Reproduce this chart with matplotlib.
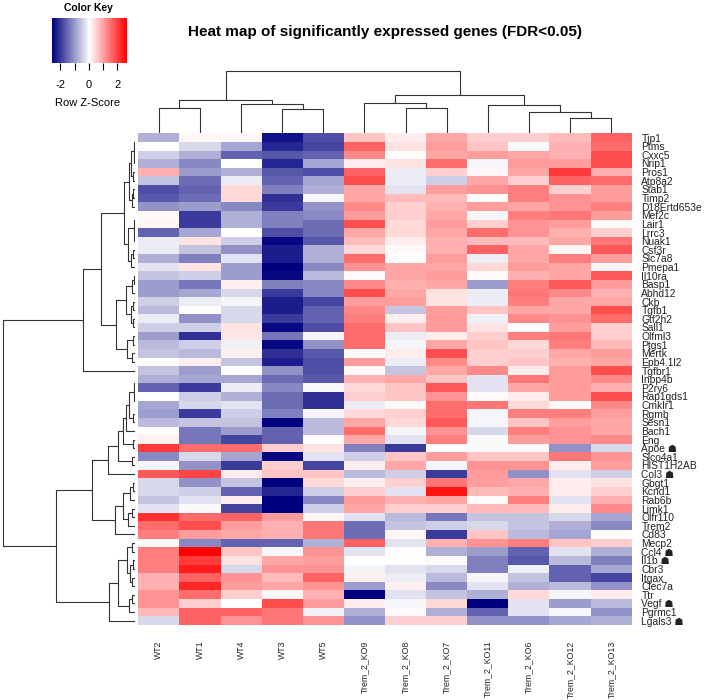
import numpy as np
import matplotlib
matplotlib.use("Agg")
import matplotlib.pyplot as plt
from matplotlib.colors import LinearSegmentedColormap

plt.rcParams["font.family"] = ["Liberation Sans", "DejaVu Sans"]

samples = ["WT2", "WT1", "WT4", "WT3", "WT5",
           "Trem_2_KO9", "Trem_2_KO8", "Trem_2_KO7", "Trem_2_KO11",
           "Trem_2_KO6", "Trem_2_KO12", "Trem_2_KO13"]

genes = ["Tjp1", "Ptms", "Cxxc5", "Nrip1", "Pros1", "Atp8a2", "Stab1", "Timp2",
         "D18Ertd653e", "Mef2c", "Lair1", "Lrrc3", "Nuak1", "Csf3r", "Slc7a8",
         "Pmepa1", "Il10ra", "Basp1", "Abhd12", "Ckb", "Tgfb1", "Gtf2h2", "Sall1",
         "Olfml3", "Ptgs1", "Mertk", "Epb4.1l2", "Tgfbr1", "Inpp4b", "P2ry6",
         "Rap1gds1", "Cmklr1", "Rgmb", "Sesn1", "Bach1", "Eng", "Apoe", "Slco4a1",
         "HIST1H2AB", "Col3", "Gbgt1", "Kcnd1", "Rab6b", "Limk1", "Olfr110",
         "Trem2", "Cd83", "Mecp2", "Ccl4", "Il1b", "Cbr3", "Itgax", "Clec7a",
         "Ttr", "Vegf", "Pgrmc1", "Lgals3"]
starred = ["Apoe", "Col3", "Ccl4", "Il1b", "Vegf", "Lgals3"]

# row z-scores, WT columns (WT2, WT1, WT4, WT3, WT5)
wt_z = [
    [-0.8, 0.1, 0.1, -2.4, -1.8], [0.0, -0.4, -0.9, -2.2, -1.9],
    [-0.5, -0.8, -1.6, -1.7, -1.6], [-0.8, -1.2, 0.0, -2.2, -0.9],
    [0.8, -1.0, -0.8, -1.7, -1.8], [-0.6, -1.5, -0.2, -1.6, -0.9],
    [-1.8, -1.6, 0.4, -1.3, -0.8], [-1.7, -1.5, 0.4, -2.1, -0.1],
    [-1.1, -1.0, -1.2, -2.0, -1.1], [0.05, -2.0, -0.8, -1.3, -1.2],
    [0.1, -2.0, -0.8, -1.3, -1.5], [-1.6, -0.9, 0.0, -1.8, -1.5],
    [-0.2, 0.3, -0.5, -2.5, -1.7], [-0.2, -0.6, -1.1, -2.3, -0.8],
    [-0.8, -1.3, -0.3, -2.3, -0.8], [-0.3, 0.3, -1.0, -2.6, -1.2],
    [-0.6, -0.5, -1.0, -2.5, -0.7], [-1.0, -1.4, 0.15, -1.3, -1.2],
    [-1.0, -0.9, -0.4, -2.0, -1.2], [-0.5, -0.2, -0.1, -2.3, -1.9],
    [-0.7, 0.0, -0.4, -2.3, -1.6], [-0.2, -1.1, -0.4, -2.0, -1.6],
    [-0.5, -0.5, 0.3, -2.5, -1.8], [-1.0, -2.1, 0.25, -1.4, -0.1],
    [-0.7, -0.5, -0.15, -2.5, -1.1], [-0.6, -0.7, 0.15, -2.1, -1.7],
    [0.0, 0.2, -0.6, -2.3, -1.8], [-0.6, -1.0, 0.0, -1.1, -1.8],
    [-0.8, -0.9, -0.9, -1.5, -1.7], [-1.6, -2.0, -0.2, -1.2, -0.05],
    [0.0, -0.5, -0.8, -1.5, -2.1], [-0.9, -0.4, -0.3, -1.5, -2.1],
    [-1.0, -2.0, -0.5, -1.3, -0.1], [-0.7, -0.6, -0.6, -2.6, -0.7],
    [0.0, -1.4, -1.0, -1.6, -0.7], [0.15, -1.4, -1.9, -1.6, 0.0],
    [2.0, 1.5, 1.5, 0.5, 0.3], [-1.2, -0.4, -0.9, -2.5, -0.3],
    [-0.1, -1.1, -2.0, 0.5, -1.9], [1.7, 1.9, 0.2, 0.6, 0.6],
    [-0.4, -1.1, -0.6, -2.7, 0.4], [-0.4, -0.5, -1.6, -2.2, -0.5],
    [-0.6, -0.3, 0.2, -2.7, -1.2], [-0.3, -0.05, -1.9, -2.6, -0.5],
    [2.1, 1.5, 1.6, 1.0, 0.1], [1.5, 1.8, 1.0, 0.8, 1.4],
    [1.3, 1.0, 0.9, 0.8, 1.4], [0.1, -1.2, -1.6, -1.6, -0.8],
    [1.3, 2.6, 0.6, -0.1, 1.1], [1.3, 2.0, 0.3, 0.9, 1.0],
    [1.3, 2.3, -0.4, 1.1, 1.1], [0.8, 1.6, 1.1, 0.7, 1.6],
    [0.8, 2.2, 1.0, 0.9, 1.1], [1.1, 1.5, 0.5, 0.1, 0.8],
    [1.1, 0.5, 0.0, 1.8, 1.0], [0.7, 1.6, 1.6, 1.4, -0.15],
    [-0.4, 1.6, 1.1, 1.4, 1.1],
]

# row z-scores, Trem2 KO columns (KO9, KO8, KO7, KO11, KO6, KO12, KO13)
ko_z = [
    [0.6, 0.2, 0.9, 0.5, 0.5, 0.7, 1.6], [1.6, 0.3, 1.0, 0.6, -0.05, 0.8, 1.5],
    [1.2, 0.0, 0.9, 1.0, 0.9, 0.8, 1.8], [0.2, 0.3, 1.5, -0.1, 1.0, 1.0, 1.8],
    [1.6, -0.2, 0.5, 0.1, 0.9, 2.0, 0.8], [1.8, -0.2, -0.5, 0.9, 0.5, 1.6, 1.5],
    [0.9, -0.3, 1.0, 1.1, 1.3, 0.5, 1.0], [0.9, 0.7, 0.7, 0.0, 1.3, 1.1, 1.0],
    [1.2, 0.5, 0.8, 1.0, 0.9, 1.1, 1.3], [1.0, 0.5, 0.9, -0.1, 1.3, 1.4, 1.0],
    [1.8, 0.4, 1.0, 0.5, 1.1, 1.0, 0.05], [0.9, 0.4, 0.9, 1.5, 1.1, 0.8, 0.5],
    [0.7, 0.2, 0.8, 0.7, 0.7, 0.9, 1.4], [0.4, 0.05, 0.8, 1.6, 0.9, 0.1, 1.7],
    [1.5, 0.0, 1.0, -0.2, 0.9, 1.3, 1.0], [1.1, 0.9, 0.9, 0.4, 1.0, 0.9, 0.1],
    [0.05, 0.9, 1.0, 0.05, 0.8, 0.9, 1.7], [1.2, 0.8, 0.9, -1.0, 1.3, 1.7, 1.0],
    [1.8, 0.9, 0.3, -0.2, 1.4, 1.2, 0.8], [1.0, 1.0, 0.3, -0.2, 1.3, 0.9, 0.9],
    [1.2, -0.6, 1.0, 0.6, 0.9, 0.9, 1.8], [1.3, 0.2, 1.0, -0.15, 1.2, 1.1, 1.5],
    [1.5, 0.6, 1.0, 0.3, 0.0, 1.0, 0.5], [1.5, -0.2, 0.2, 0.5, 1.3, 1.4, 0.5],
    [1.5, -0.1, 0.9, 0.6, 0.4, 1.3, 0.7], [0.05, 0.2, 1.8, 0.5, 0.5, 0.9, 1.0],
    [1.0, -0.2, 1.2, 0.5, 0.6, 0.8, 0.9], [0.05, -0.6, 0.9, 1.2, 0.2, 1.0, 1.8],
    [0.8, 0.9, 0.6, -0.3, 1.4, 1.0, 1.2], [0.4, 0.6, 1.7, -0.3, 0.9, 1.0, 0.8],
    [0.5, 0.6, 1.1, 0.05, 0.2, 1.0, 1.8], [-0.2, 0.05, 1.5, 1.4, 0.4, 0.05, 1.2],
    [0.4, 0.5, 1.5, -0.1, 1.3, 1.3, 1.0], [0.9, 0.4, 1.7, -0.1, 0.6, 1.0, 0.9],
    [1.5, -0.1, 1.1, -0.4, 1.3, 1.1, 0.9], [0.9, -0.3, 1.3, -0.05, 1.0, 1.1, 1.2],
    [-1.3, -2.0, 0.0, -0.05, -0.05, -1.1, -0.4], [-0.5, 0.6, 1.0, 0.6, 0.6, 1.4, 1.1],
    [0.2, 0.9, -0.1, 1.1, 1.1, 0.2, 1.0], [-0.7, -0.5, -2.0, 1.0, -1.1, -0.3, -0.5],
    [0.2, 0.5, 1.4, 1.0, 0.9, 0.2, 0.3], [0.5, -0.3, 2.4, 0.7, 0.8, 0.2, 0.5],
    [1.0, 0.8, 0.9, 0.05, 1.3, -0.3, 0.8], [0.9, 0.5, 0.5, 0.7, 0.7, 0.2, 1.2],
    [-0.3, -0.7, -1.4, -0.6, -0.6, -0.4, -0.9], [-1.5, -0.6, -0.5, -0.4, -0.6, -0.8, -1.2],
    [-1.5, 0.1, -2.0, 0.6, -0.7, -0.9, 0.0], [1.6, -0.3, 0.8, 1.1, 1.3, 0.6, 0.5],
    [-0.3, 0.0, -0.8, -1.0, -1.6, -0.3, -0.8], [0.0, 0.0, 0.05, -1.3, -1.7, -0.7, -1.3],
    [-0.1, -0.3, -0.4, -1.3, -0.15, -1.6, -0.9], [0.15, -0.2, -0.7, -0.1, -0.6, -1.6, -1.9],
    [-1.0, 0.15, -1.2, -0.3, -0.8, -0.7, -1.1], [-2.7, -0.3, -0.6, -0.8, 0.4, -0.1, 0.2],
    [0.2, -0.1, 0.4, -2.6, -0.3, -1.0, -0.7], [-0.8, 0.05, -0.8, -1.6, -0.3, -0.1, -1.1],
    [-1.1, 0.5, 0.5, -1.1, -1.1, -0.9, -0.8],
]

# dendrograms as (left, right, merge height); ints are leaf indices
col_tree = (((0, 1, 25.0), (2, (3, 4, 24.0), 29.3), 33.3),
            ((5, (6, 7, 25.6), 30.6), (8, (9, (10, 11, 15.0), 21.0), 28.3), 38.3),
            62.6)

grp_a = ((((0, 1, 0.4), (2, 3, 0.6), 1.2), (4, 5, 2.5), 4.0), ((6, 7, 2.5), 8, 3.5), 5.7)
grp_b = (((9, 10, 0.5), (11, 12, 0.8), 1.5), ((13, 14, 2.5), 15, 4.0), 6.7)
grp_c = (((16, 17, 1.5), 18, 3.0), ((19, 20, 2.0), (21, 22, 2.5), 4.0), 9.0)
grp_d = ((23, 24, 2.5), (25, 26, 3.0), 8.0)
top_tree = (((grp_a, grp_b, 11.0), (grp_c, grp_d, 19.0), 34.3), 27, 52.3)

grp_e = ((((((28, 29, 0.3), (30, 31, 0.5), 1.0), (32, 33, 2.5), 6.0), 34, 9.0),
          (35, 36, 2.0), 12.0), (37, 38, 3.5), 16.7)
grp_f = ((((40, 41, 2.0), 42, 5.0), ((43, 44, 3.0), 45, 7.0), 12.0), 46, 20.0)
grp_g = ((((47, 48, 3.0), ((49, 50, 2.0), (51, 52, 3.0), 5.0), 8.0),
          ((53, 54, 3.0), 55, 6.0), 16.7), 56, 25.7)
bottom_tree = (((grp_e, 39, 26.7), grp_f, 43.3), grp_g, 79.0)
row_tree = (top_tree, bottom_tree, 132.3)


def draw_dendro(ax, node, orient):
    if isinstance(node, int):
        return node + 0.5, 0.0
    left, right, h = node
    p1, h1 = draw_dendro(ax, left, orient)
    p2, h2 = draw_dendro(ax, right, orient)
    pos = [p1, p1, p2, p2]
    hts = [h1, h, h, h2]
    if orient == "top":
        ax.plot(pos, hts, color="#333333", lw=0.8, solid_capstyle="butt")
    else:
        ax.plot(hts, pos, color="#333333", lw=0.8, solid_capstyle="butt")
    return (p1 + p2) / 2, h


W, H = 708, 700


def px_axes(fig, x0, y0, x1, y1):
    return fig.add_axes([x0 / W, 1 - y1 / H, (x1 - x0) / W, (y1 - y0) / H])


fig = plt.figure(figsize=(W / 100, H / 100), dpi=100)
cmap = LinearSegmentedColormap.from_list("bwr_key", ["#00007F", "white", "#FF0000"])
vmin, vmax = -2.6, 2.6

z = np.hstack([np.array(wt_z), np.array(ko_z)])
n_rows, n_cols = z.shape

# heatmap
ax = px_axes(fig, 138.3, 133.3, 631.7, 625)
ax.pcolormesh(np.arange(n_cols + 1), np.arange(n_rows + 1), z,
              cmap=cmap, vmin=vmin, vmax=vmax)
ax.set_xlim(0, n_cols)
ax.set_ylim(n_rows, 0)
for s in ax.spines.values():
    s.set_visible(False)
labels = [g + " \u2617" if g in starred else g for g in genes]
ax.set_yticks(np.arange(n_rows) + 0.5)
ax.set_yticklabels(labels, fontsize=7.4, color="#222222")
ax.yaxis.tick_right()
ax.set_xticks(np.arange(n_cols) + 0.5)
ax.set_xticklabels(samples, rotation=90, fontsize=6.3, color="#222222")
ax.tick_params(axis="y", length=0, pad=7)
ax.tick_params(axis="x", length=0, pad=11)

# row dendrogram
axr = px_axes(fig, 0, 133.3, 135, 625)
draw_dendro(axr, row_tree, "left")
axr.set_xlim(135, 0)
axr.set_ylim(n_rows, 0)
axr.axis("off")

# column dendrogram
axc = px_axes(fig, 138.3, 65, 631.7, 133.3)
draw_dendro(axc, col_tree, "top")
axc.set_xlim(0, n_cols)
axc.set_ylim(0, 68.3)
axc.axis("off")

# colour key
axk = px_axes(fig, 51.7, 18.3, 126, 63.3)
axk.imshow(np.linspace(vmin, vmax, 256)[None, :], cmap=cmap, vmin=vmin, vmax=vmax,
           aspect="auto", extent=[vmin, vmax, 0, 1])
axk.set_yticks([])
axk.set_xticks([-2, -1, 0, 1, 2])
axk.set_xticklabels(["-2", "", "0", "", "2"], fontsize=8)
axk.tick_params(axis="x", length=5, width=0.8, pad=7)
for s in axk.spines.values():
    s.set_visible(False)
fig.text(88 / W, 1 - 8 / H, "Color Key", ha="center", va="center",
         fontsize=7.5, fontweight="bold")
fig.text(88 / W, 1 - 103 / H, "Row Z-Score", ha="center", va="center", fontsize=8)

fig.text(385 / W, 1 - 32 / H, "Heat map of significantly expressed genes (FDR<0.05)",
         ha="center", va="center", fontsize=11, fontweight="bold")

fig.savefig("out.png", dpi=100)
